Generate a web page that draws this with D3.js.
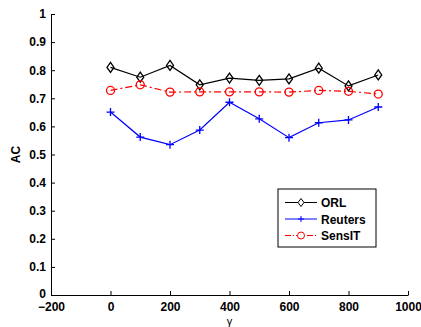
<!DOCTYPE html>
<html>
<head>
<meta charset="utf-8">
<script src="https://cdn.jsdelivr.net/npm/d3@7"></script>
<style>
  body { margin: 0; background: #fff; }
  text { font-family: "Liberation Sans", Arial, sans-serif; }
</style>
</head>
<body>
<div id="chart"></div>
<script>
var gammaVals = [0, 100, 200, 300, 400, 500, 600, 700, 800, 900];
var orl     = [0.810, 0.775, 0.817, 0.748, 0.772, 0.764, 0.769, 0.807, 0.744, 0.783];
var reuters = [0.651, 0.562, 0.535, 0.587, 0.686, 0.627, 0.560, 0.613, 0.623, 0.669];
var sensit  = [0.728, 0.748, 0.722, 0.723, 0.723, 0.723, 0.722, 0.728, 0.725, 0.715];
var xTicks = [-200, 0, 200, 400, 600, 800, 1000];
var yTicks = [0, 0.1, 0.2, 0.3, 0.4, 0.5, 0.6, 0.7, 0.8, 0.9, 1];
var seriesNames = ["ORL", "Reuters", "SensIT"];

var margin = {top: 14, right: 13, bottom: 32, left: 51},
    width = 421 - margin.left - margin.right,
    height = 327 - margin.top - margin.bottom;

var svg = d3.select("#chart")
  .append("svg")
  .attr("width", 421)
  .attr("height", 327)
  .append("g")
  .attr("transform", "translate(" + margin.left + "," + margin.top + ")");

var x = d3.scaleLinear().domain([-200, 1000]).range([0, width]);
var y = d3.scaleLinear().domain([0, 1]).range([height, 0]);

var xAxis = svg.append("g")
  .attr("transform", "translate(0," + height + ")")
  .call(d3.axisBottom(x).tickValues(xTicks).tickSizeInner(-4).tickSizeOuter(0).tickPadding(7)
        .tickFormat(function(d) { return d < 0 ? "\u2212" + Math.abs(d) : d; }));
var yAxis = svg.append("g")
  .call(d3.axisLeft(y).tickValues(yTicks).tickSizeInner(-4).tickSizeOuter(0).tickPadding(5)
        .tickFormat(function(d) { return d === 0 || d === 1 ? d : d3.format(".1f")(d); }));

[xAxis, yAxis].forEach(function(a) {
  a.selectAll("path").attr("stroke", "#000").attr("stroke-width", 1);
  a.selectAll("line").attr("stroke", "#000");
  a.selectAll("text").attr("font-size", 12).attr("font-weight", "bold").attr("fill", "#000")
    .attr("font-family", "Liberation Sans, Arial, sans-serif");
});
// lift the bottom "0" a touch, as in the original
yAxis.selectAll("text").filter(function(d) { return d === 0; }).attr("dy", "0.2em");

svg.append("text")
  .attr("transform", "translate(-31," + (height / 2) + ") rotate(-90)")
  .attr("text-anchor", "middle")
  .attr("font-size", 12).attr("font-weight", "bold")
  .text("AC");

svg.append("text")
  .attr("x", x(400)).attr("y", height + 30)
  .attr("text-anchor", "middle")
  .attr("font-size", 11)
  .text("\u03b3");

var line = d3.line()
  .x(function(d, i) { return x(gammaVals[i]); })
  .y(function(d) { return y(d); });

// ORL
svg.append("path").datum(orl)
  .attr("fill", "none").attr("stroke", "#000").attr("stroke-width", 1.2)
  .attr("d", line);
svg.append("g").selectAll("path").data(orl).enter().append("path")
  .attr("d", "M0,-5L3.5,0L0,5L-3.5,0Z")
  .attr("transform", function(d, i) { return "translate(" + x(gammaVals[i]) + "," + y(d) + ")"; })
  .attr("fill", "none").attr("stroke", "#000").attr("stroke-width", 1.3);

// Reuters
svg.append("path").datum(reuters)
  .attr("fill", "none").attr("stroke", "#0000ff").attr("stroke-width", 1.2)
  .attr("d", line);
svg.append("g").selectAll("path").data(reuters).enter().append("path")
  .attr("d", "M-4,0H4M0,-4V4")
  .attr("transform", function(d, i) { return "translate(" + x(gammaVals[i]) + "," + y(d) + ")"; })
  .attr("stroke", "#0000ff").attr("stroke-width", 1.3);

// SensIT
svg.append("path").datum(sensit)
  .attr("fill", "none").attr("stroke", "#ff0000").attr("stroke-width", 1.2)
  .attr("stroke-dasharray", "7,3,2,3")
  .attr("d", line);
svg.append("g").selectAll("circle").data(sensit).enter().append("circle")
  .attr("cx", function(d, i) { return x(gammaVals[i]); })
  .attr("cy", function(d) { return y(d); })
  .attr("r", 4)
  .attr("fill", "none").attr("stroke", "#ff0000").attr("stroke-width", 1.3);

// legend
var lg = svg.append("g").attr("transform", "translate(" + (278 - margin.left) + "," + (189 - margin.top) + ")");
lg.append("rect").attr("width", 98).attr("height", 58)
  .attr("fill", "#fff").attr("stroke", "#000").attr("stroke-width", 1);
var colors = ["#000", "#0000ff", "#ff0000"];
seriesNames.forEach(function(name, i) {
  var yy = 13.5 + i * 16.5;
  var item = lg.append("g");
  item.append("line").attr("x1", 7).attr("x2", 39).attr("y1", yy).attr("y2", yy)
    .attr("stroke", colors[i]).attr("stroke-width", 1)
    .attr("stroke-dasharray", i === 2 ? "6,2,1,2" : null);
  if (i === 0) {
    item.append("path").attr("d", "M0,-4L3,0L0,4L-3,0Z")
      .attr("transform", "translate(23," + yy + ")")
      .attr("fill", "#fff").attr("stroke", "#000");
  } else if (i === 1) {
    item.append("path").attr("d", "M-3,0H3M0,-3V3")
      .attr("transform", "translate(23," + yy + ")").attr("stroke", colors[i]);
  } else {
    item.append("circle").attr("cx", 23).attr("cy", yy).attr("r", 3.5)
      .attr("fill", "#fff").attr("stroke", colors[i]);
  }
  item.append("text").attr("x", 43).attr("y", yy + 4.5)
    .attr("font-size", 12).attr("font-weight", "bold").text(name);
});
</script>
</body>
</html>
